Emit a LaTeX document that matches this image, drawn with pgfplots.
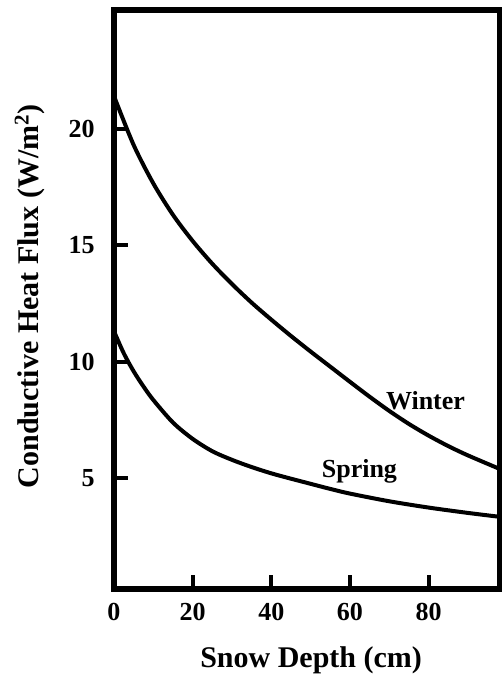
\documentclass[border=0pt]{standalone}
\usepackage{pgfplots}
\pgfplotsset{compat=1.18}
\usepackage{fontspec}
\setmainfont{Liberation Serif}

\begin{document}
\begin{tikzpicture}
\begin{axis}[
  scale only axis,
  width=193.1pt, height=289.65pt,
  xmin=0, xmax=98.2, ymin=0.22, ymax=25.1,
  axis line style={line width=2.8pt},
  xtick={0,20,40,60,80}, ytick={5,10,15,20},
  tick pos=left, tick align=inside,
  major tick length=7pt,
  every tick/.style={black, line width=2pt},
  /pgf/number format/assume math mode=true,
  tick label style={font=\fontsize{13}{15}\selectfont\bfseries},
  xticklabel style={anchor=north, inner sep=0pt, yshift=-7pt},
  yticklabel style={anchor=east, inner sep=0pt, xshift=-9.5pt},
  xlabel={Snow Depth (cm)},
  ylabel={Conductive Heat Flux (W/m\textsuperscript{2})},
  every axis x label/.style={at={(axis description cs:0.5,0)}, xshift=2pt, yshift=-35.5pt, anchor=center,
    font=\fontsize{15}{18}\selectfont\bfseries},
  every axis y label/.style={at={(axis description cs:0,0.5)}, xshift=-42pt, yshift=1.75pt, anchor=center, rotate=90,
    font=\fontsize{15}{18}\selectfont\bfseries},
]
% winter profile
\addplot[black, line width=2pt, smooth] coordinates {
  (0,21.4) (5,19.3) (10,17.65) (15,16.3) (20,15.18) (25,14.2) (30,13.33)
  (35,12.53) (40,11.8) (45,11.1) (50,10.43) (55,9.78) (60,9.13) (65,8.49)
  (70,7.88) (75,7.32) (80,6.82) (85,6.37) (90,5.97) (98.2,5.38)
};
% spring profile
\addplot[black, line width=2pt, smooth] coordinates {
  (0,11.3) (2.5,10.35) (5,9.58) (7.5,8.93) (10,8.35) (15,7.38) (20,6.68)
  (25,6.15) (30,5.78) (35,5.47) (40,5.2) (45,4.97) (50,4.75) (55,4.53)
  (60,4.33) (70,4.0) (80,3.73) (90,3.5) (98.2,3.33)
};
\node[font=\fontsize{13}{15}\selectfont\bfseries] at (axis cs:79.2,8.3) {Winter};
\node[font=\fontsize{13}{15}\selectfont\bfseries] at (axis cs:62.4,5.3) {Spring};
\end{axis}
\pgfresetboundingbox
\path[use as bounding box] ([xshift=-57pt,yshift=-43.85pt]current axis.south west) rectangle ([xshift=0.5pt,yshift=5pt]current axis.north east);
\end{tikzpicture}
\end{document}
